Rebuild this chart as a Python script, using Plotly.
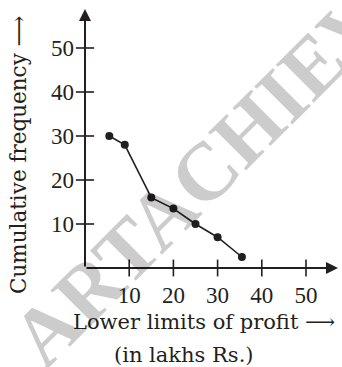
import plotly.graph_objects as go

# Data
lower_limits = [5.5, 9, 15, 20, 25, 30, 35.5]
cum_freq = [30, 28, 16, 13.5, 10, 7, 2.5]
x_ticks = [10, 20, 30, 40, 50]
y_ticks = [10, 20, 30, 40, 50]

INK = "#231f20"
FONT = "DejaVu Serif"
TICK_FONT = "Liberation Serif"
X_MAX = 57.24
Y_MAX = 58.86

fig = go.Figure()

# tick crosses
fig.add_trace(go.Scatter(x=x_ticks, y=[0] * len(x_ticks), mode="markers",
                         marker=dict(symbol="line-ns", size=12, line=dict(width=1.6, color=INK)),
                         cliponaxis=False, hoverinfo="skip", showlegend=False))
fig.add_trace(go.Scatter(x=[0] * len(y_ticks), y=y_ticks, mode="markers",
                         marker=dict(symbol="line-ew", size=13, line=dict(width=1.6, color=INK)),
                         cliponaxis=False, hoverinfo="skip", showlegend=False))

# ogive
fig.add_trace(go.Scatter(x=lower_limits, y=cum_freq, mode="lines+markers",
                         line=dict(color=INK, width=1.6),
                         marker=dict(color=INK, size=8),
                         cliponaxis=False, showlegend=False))

annotations = [
    # axes with arrowheads
    dict(x=X_MAX, y=0, ax=0, ay=0, xref="x", yref="y", axref="x", ayref="y",
         text="", showarrow=True, arrowhead=2, arrowsize=1.2, arrowwidth=2, arrowcolor=INK, standoff=0),
    dict(x=0, y=Y_MAX, ax=0, ay=0, xref="x", yref="y", axref="x", ayref="y",
         text="", showarrow=True, arrowhead=2, arrowsize=1.2, arrowwidth=2, arrowcolor=INK, standoff=0),
    # titles
    dict(x=204, y=322, xref="paper", yref="paper", text="Lower limits of profit ⟶",
         showarrow=False, font=dict(family=FONT, size=21, color=INK)),
    dict(x=184, y=355, xref="paper", yref="paper", text="(in lakhs Rs.)",
         showarrow=False, font=dict(family=FONT, size=21, color=INK)),
    dict(x=18, y=155, xref="paper", yref="paper", text="Cumulative frequency ⟶",
         textangle=-90, showarrow=False, font=dict(family=FONT, size=21.5, color=INK)),
    # watermark
    dict(x=256, y=121, xref="paper", yref="paper", text="<b>ARTACHIEVERS</b>",
         textangle=-45, showarrow=False,
         font=dict(family="Liberation Serif", size=82, color="rgba(0,0,0,0.2)")),
]

# convert pixel positions to paper coords for the title / watermark annotations
L, R, T, B = 85, 4, 9, 99
W, H = 342, 367
pw, ph = W - L - R, H - T - B
for a in annotations:
    if a.get("xref") == "paper":
        a["x"] = (a["x"] - L) / pw
        a["y"] = 1 - (a["y"] - T) / ph
        a["xanchor"] = "center"
        a["yanchor"] = "middle"

fig.update_layout(
    width=W, height=H,
    margin=dict(l=L, r=R, t=T, b=B, autoexpand=False),
    paper_bgcolor="white", plot_bgcolor="white",
    annotations=annotations,
    xaxis=dict(range=[0, X_MAX], tickvals=x_ticks, ticks="", showgrid=False, zeroline=False,
               showline=False, ticklabelstandoff=11, automargin=False,
               tickfont=dict(family=TICK_FONT, size=23, color=INK)),
    yaxis=dict(range=[0, Y_MAX], tickvals=y_ticks, ticks="", showgrid=False, zeroline=False,
               showline=False, ticklabelstandoff=10, automargin=False,
               tickfont=dict(family=TICK_FONT, size=23, color=INK)),
)

fig.write_html("out.html", config={"displayModeBar": False},
               post_script="document.body.style.margin='0';document.body.style.overflow='hidden';")
